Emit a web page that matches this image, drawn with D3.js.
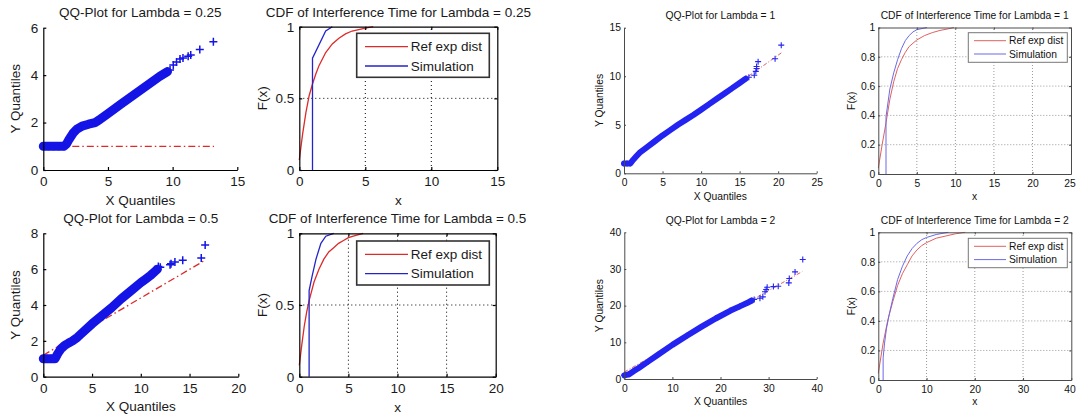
<!DOCTYPE html>
<html>
<head>
<meta charset="utf-8">
<script src="https://cdn.jsdelivr.net/npm/d3@7"></script>
<style>
  body { margin: 0; background: #fff; }
  svg { display: block; }
  text { font-family: "Liberation Sans", Arial, sans-serif; }
</style>
</head>
<body>
<div id="plot"></div>
<script>
// ---- values ----

// QQ-plot, lambda = 0.25  [x quantile, y quantile]
const qq025Band = [[0,1],[0.4,1],[0.8,1],[1.2,1],[1.6,1],[1.8,1.1],[2.0,1.3],[2.3,1.55],[2.6,1.72],[3.0,1.85],[3.5,1.93],[4.0,2.0],[4.3,2.1],[5,2.38],[6,2.78],[7,3.17],[8,3.56],[9,3.95],[9.6,4.15]];
const qq025Tail = [[9.8,4.22],[10.05,4.43],[10.3,4.55],[10.57,4.68],[10.8,4.72],[11.2,4.8],[11.4,4.85],[12.1,5.08],[13.15,5.41]];
const qq025Ref = [[0,1],[13.2,1]];

// QQ-plot, lambda = 0.5
const qq05Band = [[0,1],[0.4,1],[0.8,1],[1.2,1],[1.5,1.3],[1.8,1.55],[2.2,1.75],[2.6,1.88],[3,2.0],[3.5,2.2],[4,2.45],[5,2.95],[6,3.4],[7,3.85],[8,4.35],[9,4.8],[10,5.25],[10.5,5.45],[11,5.65],[11.5,5.9],[11.7,6.0]];
const qq05Tail = [[11.8,6.15],[12.0,6.1],[13.0,6.25],[13.1,6.3],[13.5,6.4],[14.3,6.5],[16.2,6.62],[16.6,7.35]];
const qq05Ref = [[0,1.2],[16.6,6.5]];

// QQ-plot, lambda = 1
const qq1Band = [[0,1],[0.4,1],[0.8,1],[1.2,1.4],[1.6,1.75],[2,2.1],[3,2.7],[4,3.3],[5,3.9],[6,4.45],[7,5.0],[8,5.5],[9,6.0],[10,6.55],[11,7.1],[12,7.65],[13,8.2],[14,8.75],[15,9.3],[15.8,9.75]];
const qq1Tail = [[16.2,9.9],[16.9,10.1],[17.1,10.5],[17.2,10.8],[17.2,11.0],[17.4,11.5],[19.6,11.8],[20.4,13.2]];
const qq1Ref = [[0,0.9],[20.4,12.4]];

// QQ-plot, lambda = 2
const qq2Band = [[0,1],[1,1.3],[2,2.2],[3,3.0],[5,4.8],[7,6.6],[10,9.3],[13,11.8],[16,14.2],[19,16.5],[22,18.6],[24,19.8],[25.5,20.7],[26.5,21.4]];
const qq2Tail = [[27.0,21.7],[28.2,22.0],[28.8,22.4],[29.25,23.8],[29.5,24.4],[29.7,25.0],[31.0,25.2],[32.0,25.3],[34.2,26.2],[34.3,27.4],[35.5,29.2],[37.1,32.6]];
const qq2Ref = [[0,1.9],[37,29.3]];

// CDF curves [x, F(x)]
const cdf025Ref = [[0,0.07],[0.25,0.25],[0.5,0.4],[0.75,0.52],[1.0,0.6],[1.25,0.67],[1.5,0.73],[2.0,0.82],[2.5,0.88],[3.0,0.92],[3.5,0.95],[4.0,0.97],[4.5,0.98],[5.0,0.99],[5.6,1.0]];
const cdf025Sim = [[1,0],[1,0.78],[2,0.97],[2.5,1.0]];

const cdf05Ref = [[0,0.08],[0.25,0.22],[0.5,0.35],[0.75,0.45],[1.0,0.53],[1.5,0.66],[2,0.75],[2.5,0.82],[3,0.87],[3.5,0.9],[4,0.93],[4.5,0.95],[5,0.97],[5.5,0.98],[6.5,1.0]];
const cdf05Sim = [[1,0],[1,0.6],[1.3,0.7],[1.7,0.82],[2.2,0.93],[2.7,0.98],[3.5,1.0]];

const cdf1Ref = [[0,0.04],[0.5,0.2],[1,0.35],[1.5,0.51],[2,0.63],[2.5,0.72],[3,0.78],[3.5,0.83],[4,0.87],[5,0.915],[6,0.945],[7,0.965],[8,0.98],[9,0.99],[9.8,1.0]];
const cdf1Sim = [[1,0],[1,0.39],[1.5,0.58],[2,0.69],[2.5,0.78],[3,0.855],[3.5,0.91],[4,0.945],[4.5,0.97],[5,0.985],[6.3,1.0]];

const cdf2Ref = [[0,0.045],[1,0.25],[2,0.41],[3,0.53],[4,0.64],[5,0.72],[6,0.78],[7,0.84],[8,0.88],[9,0.91],[10,0.93],[12,0.96],[14,0.975],[16,0.99],[18,1.0]];
const cdf2Sim = [[1,0],[1,0.15],[1.3,0.25],[1.7,0.35],[2.3,0.45],[3,0.55],[4,0.68],[5,0.77],[6,0.84],[7,0.89],[8,0.925],[9,0.95],[10,0.965],[12,0.985],[14.5,1.0]];

const legendLabels = ["Ref exp dist", "Simulation"];

// ---- styles for the two halves (left image is larger than the right one) ----
const bigStyle = { font: 13.5, tick: 3, xPad: 6.5, yPad: 5, axis: "#000", text: "#1a1a1a",
  grid: "#000", gridDash: "1,3", mark: 4, markW: 1.5, band: 9, markColor: "#1414e6",
  red: "#dd2a2a", blue: "#2424c8", refDash: "7,3,1.5,3", lineW: 1.3, axisW: 1.2,
  legendStroke: "#333", legendW: 1.6, legLine: [8.3, 51.3], legText: 54, legRows: [13.4, 32.7] };
const smallStyle = { font: 10.3, tick: 2, xPad: 5.5, yPad: 3, axis: "#4a4a4a", text: "#111",
  grid: "#9a9a9a", gridDash: "1,2", mark: 3, markW: 1.1, band: 6, markColor: "#2424f2",
  red: "#e06060", blue: "#6a6ae8", refDash: "4,2,1,2", lineW: 1, axisW: 1,
  legendStroke: "#777", legendW: 1, legLine: [5.7, 37.7], legText: 40.7, legRows: [8, 21.3] };

const qqPanels = [
  { s: bigStyle, x: [43.3, 237.3], y: [170, 27.7], xDom: [0, 15], yDom: [0, 6],
    xTicks: [0, 5, 10, 15], yTicks: [0, 2, 4, 6], title: "QQ-Plot for Lambda = 0.25",
    titleY: 12, xLabY: 200.7, yLabX: 15, band: qq025Band, tail: qq025Tail, ref: qq025Ref },
  { s: bigStyle, x: [43.3, 238.3], y: [376.7, 233.3], xDom: [0, 20], yDom: [0, 8],
    xTicks: [0, 5, 10, 15, 20], yTicks: [0, 2, 4, 6, 8], title: "QQ-Plot for Lambda = 0.5",
    titleY: 218, xLabY: 406.7, yLabX: 15, band: qq05Band, tail: qq05Tail, ref: qq05Ref },
  { s: smallStyle, x: [624, 816.7], y: [173.3, 27.7], xDom: [0, 25], yDom: [0, 15],
    xTicks: [0, 5, 10, 15, 20, 25], yTicks: [0, 5, 10, 15], title: "QQ-Plot for Lambda = 1",
    titleY: 15, xLabY: 196.7, yLabX: 599, band: qq1Band, tail: qq1Tail, ref: qq1Ref },
  { s: smallStyle, x: [624.3, 816.7], y: [379, 232.3], xDom: [0, 40], yDom: [0, 40],
    xTicks: [0, 10, 20, 30, 40], yTicks: [0, 10, 20, 30, 40], title: "QQ-Plot for Lambda = 2",
    titleY: 220.7, xLabY: 401.7, yLabX: 599, band: qq2Band, tail: qq2Tail, ref: qq2Ref }
];

const cdfPanels = [
  { s: bigStyle, x: [299.3, 497.3], y: [170, 26.7], xDom: [0, 15],
    xTicks: [0, 5, 10, 15], yTicks: [0, 0.5, 1], title: "CDF of Interference Time for Lambda = 0.25",
    titleY: 12, xLabY: 200, yLabX: 262, legend: [356.7, 489.3, 33.3, 77.3], ref: cdf025Ref, sim: cdf025Sim },
  { s: bigStyle, x: [299.3, 495.7], y: [376.7, 233.3], xDom: [0, 20],
    xTicks: [0, 5, 10, 15, 20], yTicks: [0, 0.5, 1], title: "CDF of Interference Time for Lambda = 0.5",
    titleY: 218, xLabY: 407, yLabX: 262, legend: [356.7, 489.3, 241, 285], ref: cdf05Ref, sim: cdf05Sim },
  { s: smallStyle, x: [878.3, 1071], y: [174, 27.5], xDom: [0, 25],
    xTicks: [0, 5, 10, 15, 20, 25], yTicks: [0, 0.2, 0.4, 0.6, 0.8, 1], title: "CDF of Interference Time for Lambda = 1",
    titleY: 15, xLabY: 196.7, yLabX: 851.5, legend: [968.3, 1067.3, 32.7, 62.3], ref: cdf1Ref, sim: cdf1Sim },
  { s: smallStyle, x: [878.3, 1071.3], y: [380, 232.3], xDom: [0, 40],
    xTicks: [0, 10, 20, 30, 40], yTicks: [0, 0.2, 0.4, 0.6, 0.8, 1], title: "CDF of Interference Time for Lambda = 2",
    titleY: 220.7, xLabY: 401.7, yLabX: 851.5, legend: [968.3, 1067.3, 238.3, 267.7], ref: cdf2Ref, sim: cdf2Sim }
];

const W = 1076, H = 417;
const svg = d3.select("#plot")
  .append("svg")
  .attr("width", W)
  .attr("height", H);

function styleAxis(g, s) {
  g.select(".domain").attr("stroke", s.axis).attr("stroke-width", s.axisW);
  g.selectAll(".tick line").attr("stroke", s.axis).attr("stroke-width", s.axisW);
  g.selectAll(".tick text").attr("fill", s.text).style("font-size", s.font + "px")
    .style("font-family", "'Liberation Sans', Arial, sans-serif");
}

function addLabels(g, p, x, y) {
  const s = p.s;
  g.append("text")
    .attr("x", (x.range()[0] + x.range()[1]) / 2)
    .attr("y", p.titleY).attr("dy", "0.35em")
    .attr("text-anchor", "middle").attr("fill", s.text)
    .style("font-size", s.font + "px").text(p.title);
  g.append("text")
    .attr("x", (x.range()[0] + x.range()[1]) / 2)
    .attr("y", p.xLabY).attr("dy", "0.35em")
    .attr("text-anchor", "middle").attr("fill", s.text)
    .style("font-size", s.font + "px").text(p.xLabel);
  const cy = (y.range()[0] + y.range()[1]) / 2;
  g.append("text")
    .attr("transform", `translate(${p.yLabX},${cy}) rotate(-90)`)
    .attr("dy", "0.35em")
    .attr("text-anchor", "middle").attr("fill", s.text)
    .style("font-size", s.font + "px").text(p.yLabel);
}

function drawAxes(g, p, x, y, box) {
  const s = p.s;
  const fmt = d3.format("~g");
  const bottom = g.append("g").attr("transform", `translate(0,${y.range()[0]})`)
    .call(d3.axisBottom(x).tickValues(p.xTicks).tickSizeInner(-s.tick).tickSizeOuter(0)
      .tickPadding(s.xPad).tickFormat(fmt));
  const left = g.append("g").attr("transform", `translate(${x.range()[0]},0)`)
    .call(d3.axisLeft(y).tickValues(p.yTicks).tickSizeInner(-s.tick).tickSizeOuter(0)
      .tickPadding(s.yPad).tickFormat(fmt));
  styleAxis(bottom, s);
  styleAxis(left, s);

  // keep a tick label that would run past the page edge inside it
  bottom.selectAll(".tick text").each(function () {
    const b = this.getBBox();
    const tx = x(+d3.select(this.parentNode).datum());
    const over = tx + b.x + b.width - (W - 0.5);
    if (over > 0) d3.select(this).attr("x", -over);
  });

  if (box) {
    const top = g.append("g").attr("transform", `translate(0,${y.range()[1]})`)
      .call(d3.axisTop(x).tickValues(p.xTicks).tickSizeInner(-s.tick).tickSizeOuter(0).tickFormat(""));
    const right = g.append("g").attr("transform", `translate(${x.range()[1]},0)`)
      .call(d3.axisRight(y).tickValues(p.yTicks).tickSizeInner(-s.tick).tickSizeOuter(0).tickFormat(""));
    styleAxis(top, s);
    styleAxis(right, s);
  }
}

function plusPath(m) {
  return `M${-m},0H${m}M0,${-m}V${m}`;
}

// QQ plots
qqPanels.forEach(p => {
  const s = p.s;
  p.xLabel = "X Quantiles";
  p.yLabel = "Y Quantiles";
  const x = d3.scaleLinear().domain(p.xDom).range(p.x);
  const y = d3.scaleLinear().domain(p.yDom).range(p.y);
  const g = svg.append("g");

  const line = d3.line().x(d => x(d[0])).y(d => y(d[1]));

  // reference line (dash-dot)
  g.append("path").datum(p.ref)
    .attr("d", line).attr("fill", "none")
    .attr("stroke", s.red).attr("stroke-width", s.lineW)
    .attr("stroke-dasharray", s.refDash);

  // the dense cloud of markers
  g.append("path").datum(p.band)
    .attr("d", line).attr("fill", "none")
    .attr("stroke", s.markColor).attr("stroke-width", s.band)
    .attr("stroke-linecap", "round").attr("stroke-linejoin", "round");

  g.selectAll(".mk")
    .data(p.band.concat(p.tail))
    .enter().append("path")
    .attr("transform", d => `translate(${x(d[0])},${y(d[1])})`)
    .attr("d", plusPath(s.mark))
    .attr("stroke", s.markColor).attr("stroke-width", s.markW)
    .attr("fill", "none");

  drawAxes(g, p, x, y, false);
  addLabels(g, p, x, y);
});

// CDF plots
cdfPanels.forEach(p => {
  const s = p.s;
  p.xLabel = "x";
  p.yLabel = "F(x)";
  const x = d3.scaleLinear().domain(p.xDom).range(p.x);
  const y = d3.scaleLinear().domain([0, 1]).range(p.y);
  const g = svg.append("g");

  // grid
  g.selectAll(".gx").data(p.xTicks.slice(1, -1)).enter().append("line")
    .attr("x1", d => x(d)).attr("x2", d => x(d))
    .attr("y1", y(0)).attr("y2", y(1))
    .attr("stroke", s.grid).attr("stroke-dasharray", s.gridDash).attr("stroke-width", 1);
  g.selectAll(".gy").data(p.yTicks.slice(1, -1)).enter().append("line")
    .attr("x1", x(p.xDom[0])).attr("x2", x(p.xDom[1]))
    .attr("y1", d => y(d)).attr("y2", d => y(d))
    .attr("stroke", s.grid).attr("stroke-dasharray", s.gridDash).attr("stroke-width", 1);

  const line = d3.line().x(d => x(d[0])).y(d => y(d[1]));
  g.append("path").datum(p.ref).attr("d", line).attr("fill", "none")
    .attr("stroke", s.red).attr("stroke-width", s.lineW);
  g.append("path").datum(p.sim).attr("d", line).attr("fill", "none")
    .attr("stroke", s.blue).attr("stroke-width", s.lineW);

  drawAxes(g, p, x, y, true);
  addLabels(g, p, x, y);

  // legend
  const [lx0, lx1, ly0, ly1] = p.legend;
  g.append("rect")
    .attr("x", lx0).attr("y", ly0).attr("width", lx1 - lx0).attr("height", ly1 - ly0)
    .attr("fill", "#fff").attr("stroke", s.legendStroke).attr("stroke-width", s.legendW);
  const colors = [s.red, s.blue];
  legendLabels.forEach((lab, i) => {
    const ly = ly0 + s.legRows[i];
    g.append("line")
      .attr("x1", lx0 + s.legLine[0]).attr("x2", lx0 + s.legLine[1])
      .attr("y1", ly).attr("y2", ly)
      .attr("stroke", colors[i]).attr("stroke-width", s.lineW);
    g.append("text")
      .attr("x", lx0 + s.legText).attr("y", ly).attr("dy", "0.35em")
      .attr("fill", s.text).style("font-size", s.font + "px").text(lab);
  });
});
</script>
</body>
</html>
